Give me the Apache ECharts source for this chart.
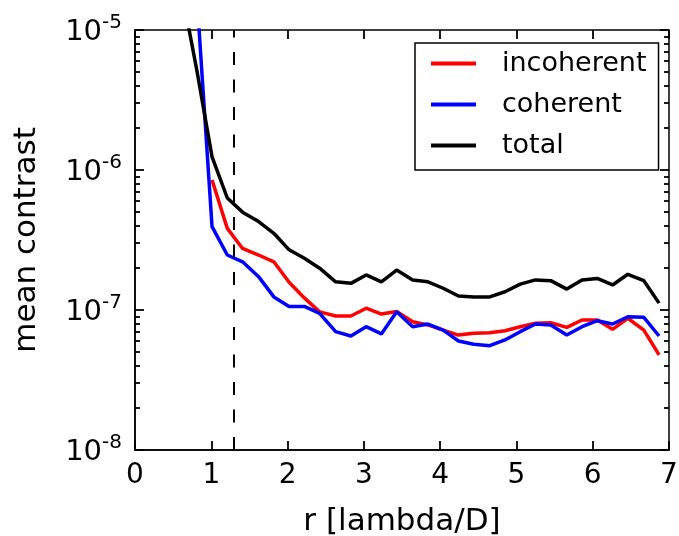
<!DOCTYPE html>
<html>
<head>
<meta charset="utf-8">
<script src="https://cdn.jsdelivr.net/npm/echarts@6/dist/echarts.min.js"></script>
<style>
html,body{margin:0;padding:0;background:#fff;}
#c{width:679px;height:536px;}
</style>
</head>
<body>
<div id="c"></div>
<script>
// radius in lambda/D
var rValues = [0.61, 0.81, 1.01, 1.21, 1.41, 1.62, 1.82, 2.02, 2.22, 2.42, 2.63, 2.83, 3.03, 3.23, 3.43, 3.64,
  3.84, 4.04, 4.24, 4.44, 4.65, 4.85, 5.05, 5.25, 5.45, 5.66, 5.86, 6.06, 6.26, 6.46, 6.67, 6.87];
var incoherent = [null, null, 8.49e-7, 3.83e-7, 2.75e-7, 2.47e-7, 2.21e-7, 1.58e-7, 1.22e-7, 9.7e-8, 9.06e-8, 9.06e-8,
  1.03e-7, 9.35e-8, 9.77e-8, 8.24e-8, 7.82e-8, 7.19e-8, 6.62e-8, 6.82e-8, 6.89e-8, 7.11e-8, 7.6e-8, 8.04e-8,
  8.11e-8, 7.52e-8, 8.49e-8, 8.49e-8, 7.28e-8, 8.73e-8, 7.19e-8, 4.78e-8];
var coherent = [1e-4, 1.78e-5, 3.94e-7, 2.47e-7, 2.21e-7, 1.73e-7, 1.24e-7, 1.06e-7, 1.06e-7, 9.46e-8, 7.0e-8, 6.52e-8,
  7.6e-8, 6.75e-8, 9.73e-8, 7.6e-8, 7.94e-8, 7.19e-8, 6.01e-8, 5.69e-8, 5.56e-8, 6.11e-8, 7.0e-8, 7.94e-8,
  7.82e-8, 6.62e-8, 7.6e-8, 8.39e-8, 7.94e-8, 8.95e-8, 8.87e-8, 6.52e-8];
var total = [1.93e-5, 5.18e-6, 1.24e-6, 6.31e-7, 5.0e-7, 4.28e-7, 3.53e-7, 2.69e-7, 2.34e-7, 1.99e-7, 1.59e-7, 1.55e-7,
  1.78e-7, 1.59e-7, 1.93e-7, 1.64e-7, 1.59e-7, 1.43e-7, 1.26e-7, 1.24e-7, 1.24e-7, 1.35e-7, 1.53e-7, 1.64e-7,
  1.62e-7, 1.41e-7, 1.64e-7, 1.68e-7, 1.51e-7, 1.80e-7, 1.62e-7, 1.12e-7];
var seriesNames = ['incoherent', 'coherent', 'total'];
var xTicks = [0, 1, 2, 3, 4, 5, 6, 7];
var yExponents = [-8, -7, -6, -5];
var cutoffR = 1.3;

var FONT = 'DejaVu Sans';
function pairs(ys) { return rValues.map(function (x, i) { return [x, ys[i]]; }); }
var minorLog = [];
for (var d = yExponents[0]; d < yExponents[yExponents.length - 1]; d++) {
  for (var m = 2; m <= 9; m++) minorLog.push(d + Math.log10(m));
}
function tick(len) {
  return {show: true, inside: true, length: len, lineStyle: {color: '#000', width: 1.8}};
}

var chart = echarts.init(document.getElementById('c'), null, {renderer: 'canvas'});
var yLabelRich = {
  b: {fontSize: 29, fontFamily: FONT, color: '#000', lineHeight: 34, verticalAlign: 'bottom'},
  s: {fontSize: 20, fontFamily: FONT, color: '#000', lineHeight: 34, verticalAlign: 'top', padding: [0, 0, 12, 0]}
};
chart.setOption({
  animation: false,
  backgroundColor: '#fff',
  grid: {left: 135, right: 10, top: 30, bottom: 86, show: true, borderColor: '#000', borderWidth: 1.5,
    containLabel: false, outerBoundsMode: 'none'},
  legend: {
    data: seriesNames, orient: 'vertical', left: 415, top: 43,
    padding: [7, 12, 11, 16], itemGap: 14, itemWidth: 45, itemHeight: 4, icon: 'rect',
    borderColor: '#000', borderWidth: 1.5, backgroundColor: '#fff',
    textStyle: {fontSize: 27, fontFamily: FONT, color: '#000', lineHeight: 26, padding: [0, 0, 0, 21]}
  },
  xAxis: [
    {type: 'value', min: 0, max: 7, interval: 1, position: 'bottom',
      name: 'r [lambda/D]', nameLocation: 'middle', nameGap: 56,
      nameTextStyle: {fontSize: 31, fontFamily: FONT, color: '#000'},
      axisLine: {show: true, onZero: false, lineStyle: {color: '#000', width: 1.5}},
      axisTick: tick(9),
      axisLabel: {fontSize: 28, fontFamily: FONT, color: '#000', margin: 12},
      splitLine: {show: false}},
    {type: 'value', min: 0, max: 7, interval: 1, position: 'top',
      axisLine: {show: false, onZero: false}, axisTick: tick(9),
      axisLabel: {show: false}, splitLine: {show: false}}
  ],
  yAxis: [
    {type: 'log', logBase: 10, min: 1e-8, max: 1e-5, position: 'left',
      name: 'mean contrast', nameLocation: 'middle', nameGap: 93,
      nameTextStyle: {fontSize: 31, fontFamily: FONT, color: '#000'},
      axisLine: {show: true, onZero: false, lineStyle: {color: '#000', width: 1.5}},
      axisTick: tick(9),
      axisLabel: {margin: 13, rich: yLabelRich, formatter: function (v) {
        var e = Math.round(Math.log10(v)); return '{b|10}{s|' + e + '}'; }},
      splitLine: {show: false}},
    {type: 'log', logBase: 10, min: 1e-8, max: 1e-5, position: 'right',
      axisLine: {show: false, onZero: false}, axisTick: tick(9),
      axisLabel: {show: false}, splitLine: {show: false}},
    {type: 'value', min: -8, max: -5, position: 'left',
      axisLine: {show: false, onZero: false},
      axisTick: Object.assign(tick(5), {customValues: minorLog}),
      axisLabel: {show: false}, splitLine: {show: false}},
    {type: 'value', min: -8, max: -5, position: 'right',
      axisLine: {show: false, onZero: false},
      axisTick: Object.assign(tick(5), {customValues: minorLog}),
      axisLabel: {show: false}, splitLine: {show: false}}
  ],
  series: [
    {name: seriesNames[0], type: 'line', data: pairs(incoherent), symbol: 'none', connectNulls: false,
      lineStyle: {color: '#ff0000', width: 3.5}, itemStyle: {color: '#ff0000'}, z: 3},
    {name: seriesNames[1], type: 'line', data: pairs(coherent), symbol: 'none',
      lineStyle: {color: '#0000ff', width: 3.5}, itemStyle: {color: '#0000ff'}, z: 4},
    {name: seriesNames[2], type: 'line', data: pairs(total), symbol: 'none',
      lineStyle: {color: '#000000', width: 3.5}, itemStyle: {color: '#000000'}, z: 5,
      markLine: {silent: true, symbol: 'none', label: {show: false},
        lineStyle: {color: '#000', width: 2, type: [13, 14.5]},
        data: [{xAxis: cutoffR}]}}
  ]
});
</script>
</body>
</html>
